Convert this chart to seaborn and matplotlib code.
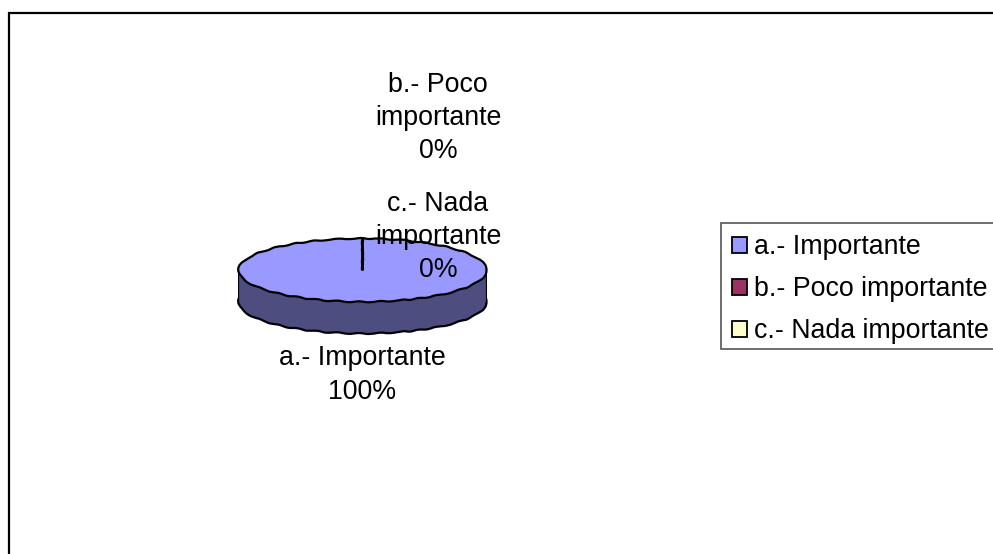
import matplotlib
matplotlib.use("Agg")
import matplotlib.pyplot as plt
from matplotlib.patches import Patch, Rectangle
import seaborn as sns

categories = ["a.- Importante", "b.- Poco importante", "c.- Nada importante"]
values = [100, 0, 0]
percent_labels = ["100%", "0%", "0%"]
wrapped_names = ["a.- Importante", "b.- Poco\nimportante", "c.- Nada\nimportante"]
top_colors = ["#9999FF", "#993366", "#FFFFCC"]
side_color = "#4D4D80"

sns.set_theme(style="white")
plt.rcParams["font.family"] = ["Liberation Sans", "DejaVu Sans"]

W, H = 993, 554
fig = plt.figure(figsize=(W / 100, H / 100), dpi=100, facecolor="white")


def px_axes(x0, y0, x1, y1, zorder):
    return fig.add_axes([x0 / W, 1 - y1 / H, (x1 - x0) / W, (y1 - y0) / H], zorder=zorder)


# page, pixel coordinates
bg = px_axes(0, 0, W, H, 1)
bg.set_xlim(0, W)
bg.set_ylim(H, 0)
bg.axis("off")
bg.add_patch(Rectangle((9, 13), 1100, 700, fc="white", ec="black", lw=1.6))

# pie: the top ellipse spans y -1..1, the rim goes one unit lower
pie_ax = px_axes(237.5, 237.5, 487.5, 334.5, 2)
pie_ax.patch.set_alpha(0)
rim, _ = pie_ax.pie([1], colors=[side_color], center=(0, -1), radius=1,
                    wedgeprops={"ec": "black", "lw": 1.6})
pie_ax.fill_between([-1, 1], [-1, -1], [0, 0], color=side_color, lw=0)
pie_ax.plot([-1, -1], [-1, 0], color="black", lw=1.6)
pie_ax.plot([1, 1], [-1, 0], color="black", lw=1.6)
top, _ = pie_ax.pie(values, colors=top_colors, startangle=90, counterclock=False, radius=1,
                    wedgeprops={"ec": "black", "lw": 1.6})
# the reference outline is faceted, not a smooth curve
for w in list(rim) + list(top):
    w.set_sketch_params(scale=0.5, length=22, randomness=2)
pie_ax.set_aspect("auto")
pie_ax.set_xlim(-1.008, 1.008)
pie_ax.set_ylim(-2.03, 1.03)
pie_ax.axis("off")

# data labels sit above the pie in the drawing order
txt = px_axes(0, 0, W, H, 3)
txt.set_xlim(0, W)
txt.set_ylim(H, 0)
txt.axis("off")
label_xy = [(362, 375), (438, 118), (438, 237)]
for name, pct, (x, y) in zip(wrapped_names, percent_labels, label_xy):
    txt.text(x, y, f"{name}\n{pct}", ha="center", va="center", fontsize=19.3,
             color="black", linespacing=1.36)

# legend frame runs off the right edge, its height is set by hand
txt.add_patch(Rectangle((721, 222.5), 300, 126.5, fc="white", ec="#555555", lw=1.2))
handles = [Patch(fc=c, ec="black", lw=1.3) for c in top_colors]
leg = txt.legend(handles, categories, loc="upper left", bbox_to_anchor=(721 / W, 1 - 223.5 / H),
                 bbox_transform=fig.transFigure, fontsize=19.3, frameon=False,
                 borderaxespad=0, handlelength=0.56, handleheight=0.56, handletextpad=0.28,
                 labelspacing=0.6, borderpad=0.4, labelcolor="black")

fig.savefig("out.png", dpi=100)
